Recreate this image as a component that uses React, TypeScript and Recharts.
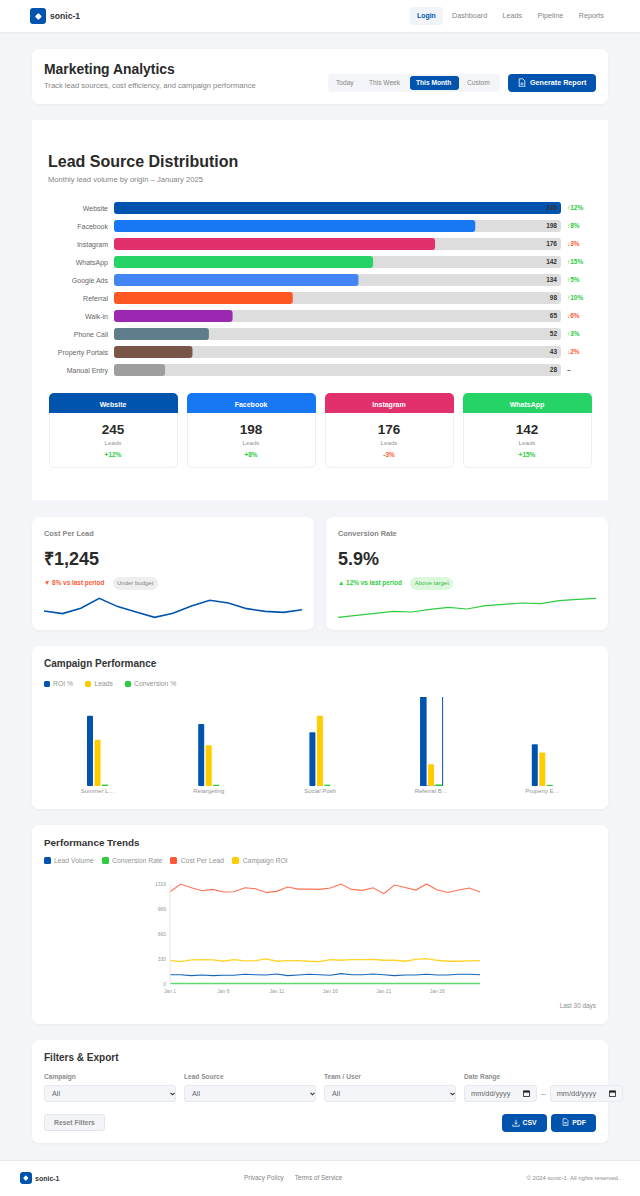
import React from 'react';
import {
  BarChart, Bar, LineChart, Line, XAxis, YAxis, Cell,
} from 'recharts';

const FONT = '"Liberation Sans", Arial, sans-serif';
const BLUE = '#0054ad';
const GREEN = '#2ecc40';
const RED = '#ff5733';
const YELLOW = '#ffcc00';

// lead sources
const sources = ['Website', 'Facebook', 'Instagram', 'WhatsApp', 'Google Ads', 'Referral', 'Walk-in', 'Phone Call', 'Property Portals', 'Manual Entry'];
const sourceLeads = [245, 198, 176, 142, 134, 98, 65, 52, 43, 28];
const sourceColors = ['#0054ad', '#1877f2', '#e1306c', '#25d366', '#4285f4', '#ff5722', '#9c27b0', '#607d8b', '#795548', '#9e9e9e'];
const sourceTrends = ['↑12%', '↑8%', '↓3%', '↑15%', '↑5%', '↑10%', '↓6%', '↑3%', '↓2%', '–'];
const sourceTrendColors = [GREEN, GREEN, RED, GREEN, GREEN, GREEN, RED, GREEN, RED, '#555'];

// top source cards
const cardNames = ['Website', 'Facebook', 'Instagram', 'WhatsApp'];
const cardLeads = ['245', '198', '176', '142'];
const cardDeltas = ['+12%', '+8%', '-3%', '+15%'];

// sparklines
const costSpark = [1193, 1171, 1216, 1300, 1230, 1185, 1140, 1174, 1235, 1283, 1260, 1213, 1190, 1182, 1204];
const conversionSpark = [4.19, 4.37, 4.55, 4.73, 4.67, 4.91, 5.09, 4.94, 5.24, 5.36, 5.48, 5.42, 5.69, 5.81, 5.9];

// campaigns
const campaigns = ['Summer L…', 'Retargeting', 'Social Push', 'Referral B…', 'Property E…'];
const campaignRoi = [320, 282, 245, 450, 190];
const campaignLeads = [210, 186, 320, 99, 152];
const campaignConversion = [6.5, 5.8, 6.2, 7.4, 5.1];

// 30 day trends
const days = Array.from({ length: 30 }, (_, i) => `Jan ${i + 1}`);
const trendVolume = [123, 123, 110, 119, 110, 115, 115, 128, 123, 119, 132, 110, 119, 128, 123, 115, 137, 123, 123, 132, 123, 110, 119, 119, 128, 119, 119, 128, 128, 123];
const trendConversion = [5.6, 5.8, 6.1, 5.7, 5.9, 5.5, 6.0, 5.8, 6.2, 5.9, 5.7, 6.0, 6.1, 5.8, 5.6, 5.9, 6.2, 6.0, 5.8, 5.7, 6.1, 5.9, 5.6, 5.8, 6.0, 6.2, 5.9, 5.7, 5.8, 5.9];
const trendCost = [1217, 1319, 1270, 1230, 1248, 1213, 1217, 1270, 1257, 1208, 1222, 1279, 1252, 1252, 1248, 1266, 1319, 1248, 1235, 1270, 1191, 1305, 1274, 1239, 1319, 1239, 1208, 1239, 1266, 1213];
const trendRoi = [313, 295, 318, 322, 318, 300, 322, 304, 309, 331, 300, 309, 309, 300, 295, 322, 313, 322, 322, 326, 313, 313, 300, 326, 335, 313, 300, 300, 304, 309];
const trendTicks = [0, 330, 660, 989, 1319];

const sourceRows = sources.map((source, i) => ({ source, leads: sourceLeads[i] }));
const costRows = costSpark.map((v) => ({ v }));
const conversionRows = conversionSpark.map((v) => ({ v }));
const campaignRows = campaigns.map((name, i) => ({
  name, roi: campaignRoi[i], leads: campaignLeads[i], conversion: campaignConversion[i],
}));
const trendRows = days.map((day, i) => ({
  day, volume: trendVolume[i], conversion: trendConversion[i], cost: trendCost[i], roi: trendRoi[i],
}));

function Box({ x, y, w, h, style, children }: any) {
  return <div style={{ position: 'absolute', left: x, top: y, width: w, height: h, ...style }}>{children}</div>;
}

// text placed by its vertical centre
function T({ x, y, right, center, size, weight, color, children }: any) {
  const tx = center ? 'translate(-50%,-50%)' : right ? 'translate(-100%,-50%)' : 'translateY(-50%)';
  return (
    <div style={{
      position: 'absolute', left: x, top: y, transform: tx, fontSize: size, fontWeight: weight ?? 400,
      color: color ?? '#858585', whiteSpace: 'nowrap', lineHeight: 1,
    }}>{children}</div>
  );
}

function Card({ x, y, w, h, radius = 7 }: any) {
  return (
    <Box x={x} y={y} w={w} h={h} style={{ background: '#fff', borderRadius: radius, boxShadow: '0 1px 3px rgba(0,0,0,0.04)' }} />
  );
}

function Logo({ x, y, size }: any) {
  return (
    <Box x={x} y={y} w={size} h={size} style={{ background: BLUE, borderRadius: 3 }}>
      <div style={{
        position: 'absolute', left: size / 2 - size * 0.15, top: size / 2 - size * 0.15, width: size * 0.3, height: size * 0.3,
        background: '#fff', transform: 'rotate(45deg)', borderRadius: 1,
      }} />
    </Box>
  );
}

function DocIcon({ x, y, size = 8 }: any) {
  return (
    <svg style={{ position: 'absolute', left: x, top: y }} width={size} height={size * 1.2} viewBox="0 0 10 12" fill="none" stroke="#fff" strokeWidth="1">
      <path d="M1.5 1h4.5l2.5 2.5v7.5h-7z" />
      <path d="M3.2 6.5h3.6M3.2 8.5h3.6" />
    </svg>
  );
}

function DownloadIcon({ x, y }: any) {
  return (
    <svg style={{ position: 'absolute', left: x, top: y }} width={8} height={8} viewBox="0 0 10 10" fill="none" stroke="#fff" strokeWidth="1">
      <path d="M5 1v5.5M3 4.5l2 2 2-2M1 7v2h8V7" />
    </svg>
  );
}

function Calendar({ x, y }: any) {
  return (
    <svg style={{ position: 'absolute', left: x, top: y }} width={7} height={7} viewBox="0 0 8 8">
      <path d="M0.5 1h7v6.5h-7z" fill="none" stroke="#222" />
      <rect x="0.5" y="1" width="7" height="2" fill="#222" />
    </svg>
  );
}

function SelectBox({ x, w, label }: any) {
  return (
    <>
      <T x={x} y={1077} size={6.6} weight={700} color="#8e8e8e">{label}</T>
      <Box x={x} y={1085.3} w={w} h={16.4} style={{ background: '#f4f5f9', border: '1px solid #e8e9ee', borderRadius: 3, boxSizing: 'border-box' }} />
      <T x={x + 8} y={1093.6} size={7.2} color="#666">All</T>
      <svg style={{ position: 'absolute', left: x + w - 6, top: 1092 }} width={5} height={4} viewBox="0 0 5 4">
        <path d="M0.5 0.8L2.5 2.8L4.5 0.8" fill="none" stroke="#333" strokeWidth="1.1" />
      </svg>
    </>
  );
}

function DateBox({ x }: any) {
  return (
    <>
      <Box x={x} y={1085.3} w={73} h={16.4} style={{ background: '#f4f5f9', border: '1px solid #e8e9ee', borderRadius: 3, boxSizing: 'border-box' }} />
      <T x={x + 7} y={1093.6} size={7.4} color="#666">mm/dd/yyyy</T>
      <Calendar x={x + 59} y={1090} />
    </>
  );
}

function Legend({ y, size, items }: any) {
  return (
    <>
      {items.map((it: any) => (
        <React.Fragment key={it.label}>
          <Box x={it.x} y={y - size / 2} w={size} h={size} style={{ background: it.color, borderRadius: 1.5 }} />
          <T x={it.tx} y={y} size={6.8} color="#949494">{it.label}</T>
        </React.Fragment>
      ))}
    </>
  );
}

function SourceTick({ x, y, payload }: any) {
  return (
    <text x={x} y={y} dy={2.5} textAnchor="end" fontFamily={FONT} fontSize={7} fill="#666">{payload.value}</text>
  );
}

function SourceEndTick({ x, y, payload }: any) {
  const i = sources.indexOf(payload.value);
  return (
    <g fontFamily={FONT} fontSize={6.5} fontWeight={700}>
      <text x={x - 10} y={y} dy={2.3} textAnchor="end" fill="#333">{sourceLeads[i]}</text>
      <text x={x} y={y} dy={2.3} fill={sourceTrendColors[i]}>{sourceTrends[i]}</text>
    </g>
  );
}

// the referral campaign is drawn hovered, so its group carries an outline
function RoiBar({ x, y, width, height, index }: any) {
  return (
    <g>
      <rect x={x} y={y} width={width} height={height} fill={BLUE} rx={1} />
      {index === 3 && <rect x={x} y={y} width={22} height={height} fill="none" stroke={BLUE} strokeWidth={1} />}
    </g>
  );
}

function Spark({ x, rows, domain, color, width, stroke }: any) {
  return (
    <div style={{ position: 'absolute', left: x, top: 594 }}>
      <LineChart width={width} height={30} data={rows} margin={{ top: 0, right: 0, bottom: 0, left: 0 }}>
        <XAxis hide padding={{ left: 0, right: 0 }} />
        <YAxis hide domain={domain} />
        <Line dataKey="v" type="linear" stroke={color} strokeWidth={stroke} dot={false} isAnimationActive={false} />
      </LineChart>
    </div>
  );
}

export default function App() {
  const axisTick = { fontFamily: FONT, fontSize: 5, fill: '#999' };
  return (
    <div style={{ position: 'absolute', left: 0, top: 0, width: 640, height: 1196, overflow: 'hidden', background: '#f4f5f9', fontFamily: FONT }}>
      {/* nav */}
      <Box x={0} y={0} w={640} h={32} style={{ background: '#fff', boxShadow: '0 1px 2px rgba(0,0,0,0.06)' }} />
      <Logo x={30} y={8} size={16} />
      <T x={50} y={16} size={8.6} weight={700} color="#333">sonic-1</T>
      <Box x={410} y={7} w={33} h={18} style={{ background: '#f1f5fa', borderRadius: 3 }} />
      <T x={417} y={16} size={6.9} weight={700} color={BLUE}>Login</T>
      <T x={452} y={16} size={7.2}>Dashboard</T>
      <T x={502.4} y={16} size={7.2}>Leads</T>
      <T x={537.6} y={16} size={7.2}>Pipeline</T>
      <T x={578.8} y={16} size={7.2}>Reports</T>

      {/* page header */}
      <Card x={32} y={49} w={576} h={55} />
      <T x={44} y={69.5} size={13.9} weight={700} color="#2a2a2a">Marketing Analytics</T>
      <T x={44} y={86} size={7.6}>Track lead sources, cost efficiency, and campaign performance</T>
      <Box x={328} y={74} w={172} h={18} style={{ background: '#f4f5f9', borderRadius: 4 }} />
      <T x={336} y={83} size={6.6}>Today</T>
      <T x={369} y={83} size={6.6}>This Week</T>
      <Box x={410} y={75.7} w={49} h={14.3} style={{ background: BLUE, borderRadius: 3 }} />
      <T x={416} y={83} size={6.6} weight={700} color="#fff">This Month</T>
      <T x={467} y={83} size={6.6}>Custom</T>
      <Box x={507.5} y={74} w={88.5} h={17.5} style={{ background: BLUE, borderRadius: 4 }} />
      <DocIcon x={517.5} y={77.5} />
      <T x={530} y={83} size={7.2} weight={700} color="#fff">Generate Report</T>

      {/* lead sources */}
      <Box x={32} y={120} w={576} h={380} style={{ background: '#fff' }} />
      <T x={48} y={162} size={16} weight={700} color="#2a2a2a">Lead Source Distribution</T>
      <T x={48} y={180} size={7.6}>Monthly lead volume by origin – January 2025</T>
      <div style={{ position: 'absolute', left: 32, top: 199.3 }}>
        <BarChart layout="vertical" width={608} height={180} data={sourceRows} margin={{ top: 0, right: 0, bottom: 0, left: 0 }}>
          <XAxis type="number" hide domain={[0, 245]} />
          <YAxis
            yAxisId="left" type="category" dataKey="source" width={82} interval={0}
            axisLine={false} tickLine={false} tickMargin={0} tick={<SourceTick />}
          />
          <YAxis
            yAxisId="right" orientation="right" type="category" dataKey="source" width={79} interval={0}
            axisLine={false} tickLine={false} tickMargin={0} tick={<SourceEndTick />}
          />
          <Bar yAxisId="left" dataKey="leads" barSize={12} radius={3} background={{ fill: '#dddddd', radius: 3 }} isAnimationActive={false}>
            {sourceRows.map((row, i) => <Cell key={row.source} fill={sourceColors[i]} />)}
          </Bar>
        </BarChart>
      </div>

      {cardNames.map((name, i) => {
        const x = 48.5 + i * 138;
        return (
          <React.Fragment key={name}>
            <Box x={x} y={392.7} w={129} h={75.6} style={{ background: '#fff', border: '1px solid #eceef2', borderRadius: 5, boxSizing: 'border-box' }} />
            <Box x={x} y={392.7} w={129} h={20.6} style={{ background: sourceColors[i], borderRadius: '5px 5px 0 0' }} />
            <T x={x + 64.5} y={403.7} center size={7} weight={700} color="#fff">{name}</T>
            <T x={x + 64.5} y={429.7} center size={13.5} weight={700} color="#2a2a2a">{cardLeads[i]}</T>
            <T x={x + 64.5} y={442.7} center size={6.2} color="#949494">Leads</T>
            <T x={x + 64.5} y={454.7} center size={6.5} weight={700} color={cardDeltas[i][0] === '-' ? RED : GREEN}>{cardDeltas[i]}</T>
          </React.Fragment>
        );
      })}

      {/* kpis */}
      <Card x={32} y={517} w={282} h={113} />
      <T x={44} y={534} size={7.4} weight={700} color="#858585">Cost Per Lead</T>
      <T x={44} y={559} size={18} weight={700} color="#2a2a2a">₹1,245</T>
      <T x={44} y={583.3} size={6.4} weight={700} color={RED}>▼ 8% vs last period</T>
      <Box x={112.6} y={576.7} w={45.2} h={13.3} style={{ background: '#eeeeee', borderRadius: 7 }} />
      <T x={135.2} y={583.3} center size={6} color="#858585">Under budget</T>
      <Spark x={44} rows={costRows} domain={[1084, 1336]} color={BLUE} width={258} stroke={1.6} />

      <Card x={326} y={517} w={282} h={113} />
      <T x={338} y={534} size={7.4} weight={700} color="#858585">Conversion Rate</T>
      <T x={338} y={559} size={18} weight={700} color="#2a2a2a">5.9%</T>
      <T x={338} y={583.3} size={6.4} weight={700} color={GREEN}>▲ 12% vs last period</T>
      <Box x={410.4} y={576.7} w={42.8} h={13.3} style={{ background: '#dcf8dc', borderRadius: 7 }} />
      <T x={431.8} y={583.3} center size={6} color="#3fb54a">Above target</T>
      <Spark x={338} rows={conversionRows} domain={[3.59, 6.29]} color={GREEN} width={258} stroke={1.2} />

      {/* campaigns */}
      <Card x={32} y={646} w={576} h={163} />
      <T x={44} y={664} size={10} weight={700} color="#333">Campaign Performance</T>
      <Legend y={684} size={6} items={[
        { x: 44, tx: 53, color: BLUE, label: 'ROI %' },
        { x: 85, tx: 94.4, color: YELLOW, label: 'Leads' },
        { x: 125, tx: 134, color: GREEN, label: 'Conversion %' },
      ]} />
      <div style={{ position: 'absolute', left: 32, top: 690 }}>
        <BarChart width={576} height={110} data={campaignRows} barSize={6} barGap={1.5} margin={{ top: 7, right: 10, bottom: 0, left: 10 }}>
          <XAxis
            dataKey="name" interval={0} height={14} axisLine={false} tickLine={false} tickSize={2} tickMargin={1}
            tick={{ fontFamily: FONT, fontSize: 6, fill: '#949494' }}
          />
          <YAxis hide domain={[0, 405]} allowDataOverflow />
          <Bar dataKey="roi" fill={BLUE} shape={<RoiBar />} isAnimationActive={false} />
          <Bar dataKey="leads" fill={YELLOW} radius={[1, 1, 0, 0]} isAnimationActive={false} />
          <Bar dataKey="conversion" fill={GREEN} isAnimationActive={false} />
        </BarChart>
      </div>

      {/* trends */}
      <Card x={32} y={825} w={576} h={199} />
      <T x={44} y={843} size={9.9} weight={700} color="#333">Performance Trends</T>
      <Legend y={860.7} size={7} items={[
        { x: 44, tx: 54, color: BLUE, label: 'Lead Volume' },
        { x: 102, tx: 112, color: GREEN, label: 'Conversion Rate' },
        { x: 170.3, tx: 180.7, color: RED, label: 'Cost Per Lead' },
        { x: 232.3, tx: 242.7, color: YELLOW, label: 'Campaign ROI' },
      ]} />
      <div style={{ position: 'absolute', left: 32, top: 874.3 }}>
        <LineChart width={576} height={124} data={trendRows} margin={{ top: 10, right: 128, bottom: 0, left: 0 }}>
          <XAxis
            dataKey="day" interval={4} height={14} padding={{ left: 0, right: 0 }}
            axisLine={false} tickLine={false} tickSize={4} tickMargin={1} tick={axisTick}
          />
          <YAxis
            width={138} domain={[0, 1319]} ticks={trendTicks} interval={0}
            axisLine={{ stroke: '#e6e6e6' }} tickLine={false} tickSize={4} tickMargin={0} tick={axisTick}
          />
          <Line dataKey="volume" type="linear" stroke={BLUE} strokeWidth={1.1} strokeOpacity={0.9} dot={false} isAnimationActive={false} />
          <Line dataKey="conversion" type="linear" stroke={GREEN} strokeWidth={1.5} strokeOpacity={0.75} dot={false} isAnimationActive={false} />
          <Line dataKey="cost" type="linear" stroke={RED} strokeWidth={1.1} strokeOpacity={0.85} dot={false} isAnimationActive={false} />
          <Line dataKey="roi" type="linear" stroke={YELLOW} strokeWidth={1.3} strokeOpacity={0.85} dot={false} isAnimationActive={false} />
        </LineChart>
      </div>
      <T x={596} y={1006.3} right size={6.4} color="#8e8e8e">Last 30 days</T>

      {/* filters */}
      <Card x={32} y={1040} w={576} h={103} />
      <T x={44} y={1058} size={10} weight={700} color="#333">Filters &amp; Export</T>
      <SelectBox x={44} w={132} label="Campaign" />
      <SelectBox x={184} w={132} label="Lead Source" />
      <SelectBox x={324} w={132} label="Team / User" />
      <T x={464} y={1077} size={6.6} weight={700} color="#8e8e8e">Date Range</T>
      <DateBox x={464} />
      <T x={541} y={1094} size={8}>–</T>
      <DateBox x={549.7} />
      <Box x={44} y={1114} w={61} h={17} style={{ background: '#f4f5f9', border: '1px solid #e4e5ea', borderRadius: 3, boxSizing: 'border-box' }} />
      <T x={74.5} y={1122.5} center size={6.8} weight={700} color="#858585">Reset Filters</T>
      <Box x={501.6} y={1114} w={45.4} h={17.5} style={{ background: BLUE, borderRadius: 4 }} />
      <DownloadIcon x={511.5} y={1118.5} />
      <T x={522.5} y={1122.5} size={6.8} weight={700} color="#fff">CSV</T>
      <Box x={551} y={1114} w={45} h={17.5} style={{ background: BLUE, borderRadius: 4 }} />
      <DocIcon x={561.5} y={1118} size={7} />
      <T x={572.3} y={1122.5} size={6.8} weight={700} color="#fff">PDF</T>

      {/* footer */}
      <Box x={0} y={1159.5} w={640} h={37} style={{ background: '#fff', borderTop: '1px solid #e6e7ec', boxSizing: 'border-box' }} />
      <Logo x={20} y={1172} size={12} />
      <T x={35} y={1177.5} size={7} weight={700} color="#333">sonic-1</T>
      <T x={244} y={1177.5} size={6.4}>Privacy Policy</T>
      <T x={294.7} y={1177.5} size={6.4}>Terms of Service</T>
      <T x={619.6} y={1177.5} right size={6} color="#8e8e8e">© 2024 sonic-1. All rights reserved.</T>
    </div>
  );
}
